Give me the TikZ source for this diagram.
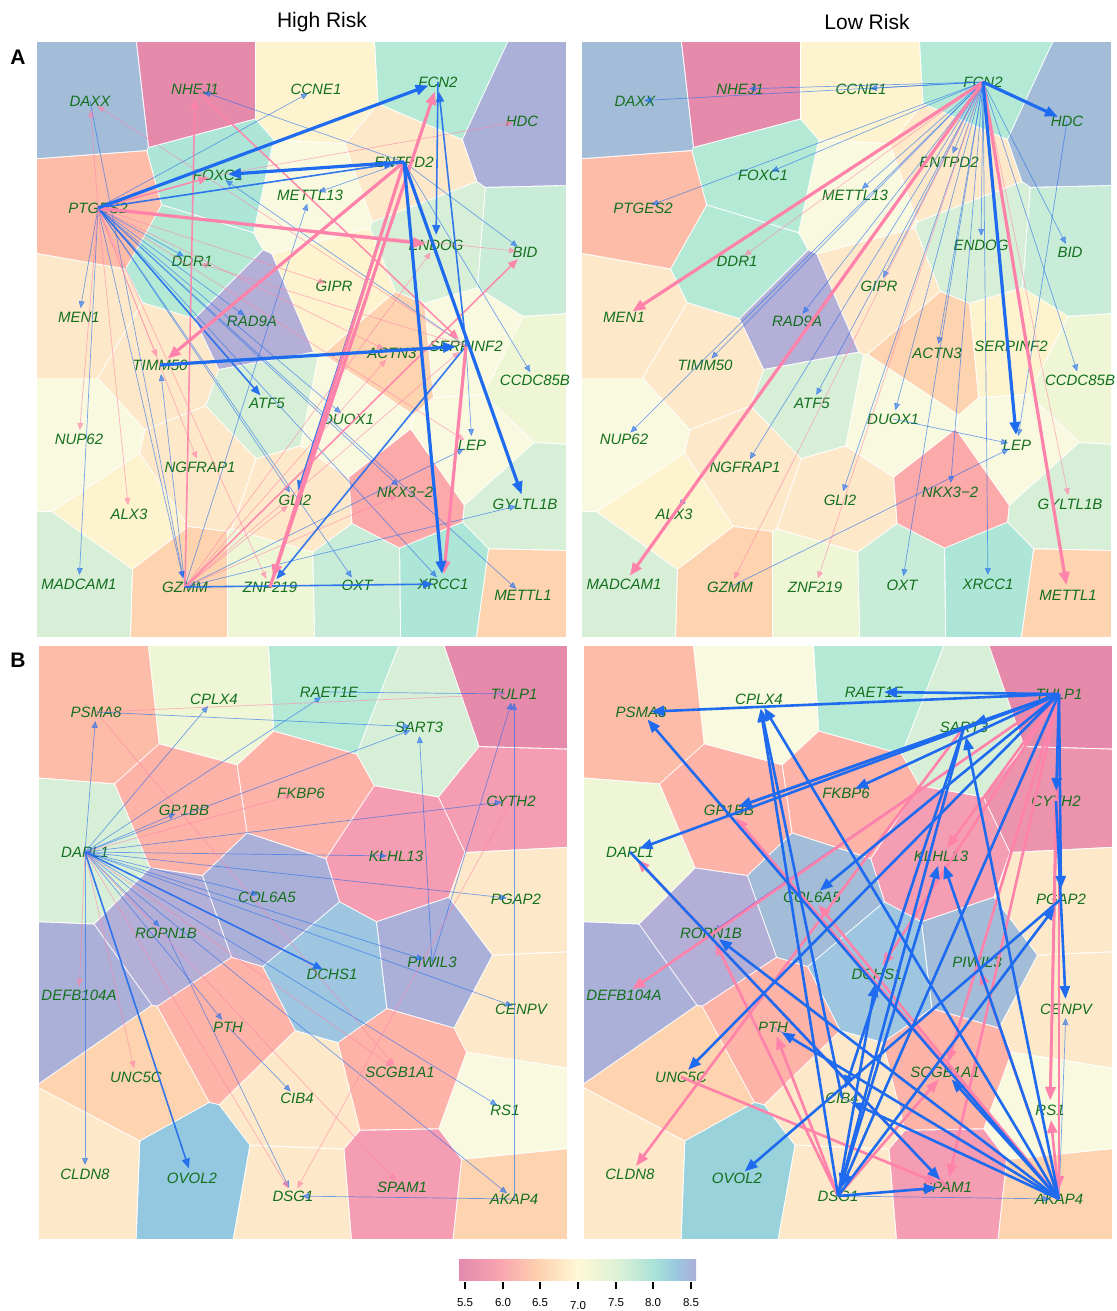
\documentclass[tikz,border=0pt]{standalone}
\usepackage{fontspec}
\setmainfont{Liberation Sans}
\usetikzlibrary{arrows.meta}
\definecolor{vDP}{HTML}{E68AAB}
\definecolor{vDQ}{HTML}{EC93AE}
\definecolor{vPK}{HTML}{F59DB2}
\definecolor{vSA}{HTML}{FDB3A8}
\definecolor{vSB}{HTML}{FCBCA8}
\definecolor{vNK}{HTML}{FBA9A9}
\definecolor{vPE}{HTML}{FDD3B0}
\definecolor{vLP}{HTML}{FDE9C9}
\definecolor{vCR}{HTML}{FEF3CF}
\definecolor{vLY}{HTML}{F9F9DF}
\definecolor{vVG}{HTML}{EEF6D6}
\definecolor{vLG}{HTML}{D8EFD7}
\definecolor{vMG}{HTML}{C9ECD8}
\definecolor{vMI}{HTML}{B4E9D6}
\definecolor{vTE}{HTML}{ADE5D6}
\definecolor{vBL}{HTML}{9EC6E0}
\definecolor{vOV}{HTML}{94C8E0}
\definecolor{vOT}{HTML}{9AD2DC}
\definecolor{vBG}{HTML}{A3BDD9}
\definecolor{vPU}{HTML}{ABB0D8}
\definecolor{vPR}{HTML}{B4AFD6}
\definecolor{ebl}{HTML}{1F6BEF}
\definecolor{epk}{HTML}{FF82AA}
\definecolor{epu}{HTML}{8A55D8}
\definecolor{gtxt}{HTML}{14701E}
\definecolor{lg1}{HTML}{E28AAE}
\definecolor{lg2}{HTML}{F9A3B0}
\definecolor{lg3}{HTML}{FDD0AE}
\definecolor{lg4}{HTML}{FEF8D6}
\definecolor{lg5}{HTML}{DDF1D5}
\definecolor{lg6}{HTML}{A7E0D9}
\definecolor{lg7}{HTML}{9AC8E0}
\definecolor{lg8}{HTML}{ABB0D8}
\pgfdeclarehorizontalshading{legsh}{100bp}{color(0bp)=(lg1); color(25bp)=(lg1); color(33.33bp)=(lg2); color(41.67bp)=(lg3); color(50bp)=(lg4); color(58.33bp)=(lg5); color(66.67bp)=(lg6); color(70.8bp)=(lg7); color(75bp)=(lg8); color(100bp)=(lg8)}

\newcommand\vorcells[2]{%
  \foreach \vxa/\vya/\vca in #1 {%
    \begin{scope}
      \clip #2;
      \foreach \vxb/\vyb/\vcb in #1 {%
        \pgfmathsetmacro\vdx{\vxb-\vxa}%
        \pgfmathsetmacro\vdy{\vyb-\vya}%
        \pgfmathsetmacro\vln{veclen(\vdx,\vdy)}%
        \ifdim\vln pt>1pt
          \pgfmathsetmacro\vnx{\vdx/\vln}%
          \pgfmathsetmacro\vny{\vdy/\vln}%
          \pgfmathsetmacro\vmx{(\vxa+\vxb)/2-0.55*\vnx}%
          \pgfmathsetmacro\vmy{(\vya+\vyb)/2-0.55*\vny}%
          \clip ({\vmx+1500*\vny},{\vmy-1500*\vnx}) -- ({\vmx-1500*\vny},{\vmy+1500*\vnx}) -- ({\vmx-1500*\vny-1500*\vnx},{\vmy+1500*\vnx-1500*\vny}) -- ({\vmx+1500*\vny-1500*\vnx},{\vmy-1500*\vnx-1500*\vny}) -- cycle;
        \fi
      }%
      \fill[\vca] #2;
    \end{scope}
  }%
}

\def\cellsAL{90/101/vBG, 195/89/vDP, 316/89/vCR, 438/82/vMI, 522/121/vPU, 404/162/vLP, 218/175/vTE, 310/195/vLY, 98/208/vSB, 436/245/vLG, 525/252/vMG, 192/261/vMI, 334/286/vCR, 79/317/vLP, 252/321/vPR, 392/353/vPE, 466/346/vLY, 160/365/vLP, 533/380/vVG, 267/403/vLG, 348/419/vLY, 79/439/vLY, 472/445/vLY, 200/467/vLP, 295/500/vLP, 405/492/vNK, 525/504/vLG, 129/514/vCR, 79/584/vLG, 185/587/vPE, 270/587/vVG, 357/585/vMG, 443/584/vTE, 523/595/vPE}
\def\cellsAR{90/101/vBG, 195/89/vDP, 316/89/vCR, 438/82/vMI, 522/121/vBG, 404/162/vLP, 218/175/vMI, 310/195/vLY, 98/208/vSB, 436/245/vLG, 525/252/vMG, 192/261/vMI, 334/286/vLP, 79/317/vLP, 252/321/vPR, 392/353/vPE, 466/346/vCR, 160/365/vLP, 533/380/vVG, 267/403/vLG, 348/419/vLY, 79/439/vLY, 472/445/vLY, 200/467/vLP, 295/500/vLP, 405/492/vNK, 525/504/vLG, 129/514/vCR, 79/584/vLG, 185/587/vPE, 270/587/vVG, 357/585/vMG, 443/584/vTE, 523/595/vPE}
\def\cellsBL{96/712/vSB, 214/699/vVG, 329/692/vMI, 514/694/vDP, 419/727/vLG, 184/810/vSA, 301/793/vSA, 511/801/vPK, 85/852/vLG, 396/856/vPK, 267/897/vPU, 516/899/vLP, 166/933/vPR, 332/974/vBL, 432/962/vPU, 79/995/vPU, 521/1009/vLP, 228/1027/vSA, 136/1077/vPE, 400/1072/vSA, 297/1098/vLP, 505/1110/vLY, 85/1174/vLP, 192/1178/vOV, 293/1196/vLP, 402/1187/vPK, 514/1199/vPE}
\def\cellsBR{96/712/vSB, 214/699/vLY, 329/692/vMI, 514/694/vDP, 419/727/vLG, 184/810/vSA, 301/793/vSA, 511/801/vDQ, 85/852/vVG, 396/856/vPK, 267/897/vBG, 516/899/vLP, 166/933/vPR, 332/974/vBL, 432/962/vBG, 79/995/vPU, 521/1009/vLP, 228/1027/vSA, 136/1077/vPE, 400/1072/vSA, 297/1098/vLP, 505/1110/vLY, 85/1174/vLP, 192/1178/vOT, 293/1196/vLP, 402/1187/vPK, 514/1199/vPE}

\newcommand\Anodes[1]{%
  \node[gl] (#1DAXX) at (90,101) {DAXX};
  \node[gl] (#1NHEJ1) at (195,89) {NHEJ1};
  \node[gl] (#1CCNE1) at (316,89) {CCNE1};
  \node[gl] (#1FCN2) at (438,82) {FCN2};
  \node[gl] (#1HDC) at (522,121) {HDC};
  \node[gl] (#1ENTPD2) at (404,162) {ENTPD2};
  \node[gl] (#1FOXC1) at (218,175) {FOXC1};
  \node[gl] (#1METTL13) at (310,195) {METTL13};
  \node[gl] (#1PTGES2) at (98,208) {PTGES2};
  \node[gl] (#1ENDOG) at (436,245) {ENDOG};
  \node[gl] (#1BID) at (525,252) {BID};
  \node[gl] (#1DDR1) at (192,261) {DDR1};
  \node[gl] (#1GIPR) at (334,286) {GIPR};
  \node[gl] (#1MEN1) at (79,317) {MEN1};
  \node[gl] (#1RAD9A) at (252,321) {RAD9A};
  \node[gl] (#1ACTN3) at (392,353) {ACTN3};
  \node[gl] (#1SERPINF2) at (466,346) {SERPINF2};
  \node[gl] (#1TIMM50) at (160,365) {TIMM50};
  \node[gl] (#1CCDC85B) at (535,380) {CCDC85B};
  \node[gl] (#1ATF5) at (267,403) {ATF5};
  \node[gl] (#1DUOX1) at (348,419) {DUOX1};
  \node[gl] (#1NUP62) at (79,439) {NUP62};
  \node[gl] (#1LEP) at (472,445) {LEP};
  \node[gl] (#1NGFRAP1) at (200,467) {NGFRAP1};
  \node[gl] (#1GLI2) at (295,500) {GLI2};
  \node[gl] (#1NKX) at (405,492) {NKX3−2};
  \node[gl] (#1GYLTL1B) at (525,504) {GYLTL1B};
  \node[gl] (#1ALX3) at (129,514) {ALX3};
  \node[gl] (#1MADCAM1) at (79,584) {MADCAM1};
  \node[gl] (#1GZMM) at (185,587) {GZMM};
  \node[gl] (#1ZNF219) at (270,587) {ZNF219};
  \node[gl] (#1OXT) at (357,585) {OXT};
  \node[gl] (#1XRCC1) at (443,584) {XRCC1};
  \node[gl] (#1METTL1) at (523,595) {METTL1};
}
\newcommand\Bnodes[1]{%
  \node[gl] (#1PSMA8) at (96,712) {PSMA8};
  \node[gl] (#1CPLX4) at (214,699) {CPLX4};
  \node[gl] (#1RAET1E) at (329,692) {RAET1E};
  \node[gl] (#1TULP1) at (514,694) {TULP1};
  \node[gl] (#1SART3) at (419,727) {SART3};
  \node[gl] (#1GP1BB) at (184,810) {GP1BB};
  \node[gl] (#1FKBP6) at (301,793) {FKBP6};
  \node[gl] (#1CYTH2) at (511,801) {CYTH2};
  \node[gl] (#1DAPL1) at (85,852) {DAPL1};
  \node[gl] (#1KLHL13) at (396,856) {KLHL13};
  \node[gl] (#1COL6A5) at (267,897) {COL6A5};
  \node[gl] (#1PGAP2) at (516,899) {PGAP2};
  \node[gl] (#1ROPN1B) at (166,933) {ROPN1B};
  \node[gl] (#1DCHS1) at (332,974) {DCHS1};
  \node[gl] (#1PIWIL3) at (432,962) {PIWIL3};
  \node[gl] (#1DEFB104A) at (79,995) {DEFB104A};
  \node[gl] (#1CENPV) at (521,1009) {CENPV};
  \node[gl] (#1PTH) at (228,1027) {PTH};
  \node[gl] (#1UNC5C) at (136,1077) {UNC5C};
  \node[gl] (#1SCGB1A1) at (400,1072) {SCGB1A1};
  \node[gl] (#1CIB4) at (297,1098) {CIB4};
  \node[gl] (#1RS1) at (505,1110) {RS1};
  \node[gl] (#1CLDN8) at (85,1174) {CLDN8};
  \node[gl] (#1OVOL2) at (192,1178) {OVOL2};
  \node[gl] (#1DSG1) at (293,1196) {DSG1};
  \node[gl] (#1SPAM1) at (402,1187) {SPAM1};
  \node[gl] (#1AKAP4) at (514,1199) {AKAP4};
}

\tikzset{
  gl/.style={font=\fontsize{15}{16}\selectfont\itshape, text=gtxt, inner sep=0pt},
  bT/.style={draw=ebl, line width=0.7pt, opacity=0.6, -{Triangle[length=7pt,width=6pt]}, shorten >=9pt},
  bM/.style={draw=ebl, line width=1.6pt, opacity=0.9, -{Triangle[length=10pt,width=8pt]}, shorten >=10pt},
  bK/.style={draw=ebl, line width=3.2pt, -{Triangle[length=13pt,width=10pt]}, shorten >=10pt},
  pT/.style={draw=epk, line width=0.7pt, opacity=0.6, -{Triangle[length=7pt,width=6pt]}, shorten >=9pt},
  pM/.style={draw=epk, line width=1.6pt, opacity=0.9, -{Triangle[length=10pt,width=8pt]}, shorten >=10pt},
  pK/.style={draw=epk, line width=3.2pt, -{Triangle[length=13pt,width=10pt]}, shorten >=10pt},
  uT/.style={draw=epu, line width=1pt, -{Bar[width=6pt]}, shorten >=9pt},
  ttl/.style={font=\fontsize{21}{24}\selectfont, inner sep=0pt},
  plab/.style={font=\fontsize{21}{24}\selectfont\bfseries, inner sep=0pt},
  leg/.style={font=\fontsize{11.5}{13}\selectfont, inner sep=0pt}
}

\begin{document}
\begin{tikzpicture}[x=1pt,y=-1pt]
\useasboundingbox (0,0) rectangle (1116,1311);
\fill[white] (0,0) rectangle (1116,1311);

% Voronoi cells
\vorcells{\cellsAL}{(37,42) rectangle (566,637)}
\begin{scope}[xshift=545pt]
\vorcells{\cellsAR}{(37,42) rectangle (566,637)}
\end{scope}
\vorcells{\cellsBL}{(39,646) rectangle (567,1239)}
\begin{scope}[xshift=545pt]
\vorcells{\cellsBR}{(39,646) rectangle (567,1239)}
\end{scope}

% titles
\node[ttl] (tHigh) at (322,22) {High Risk};
\node[ttl] (tLow) at (867,22) {Low Risk};
\node[plab] (lA) at (18,57) {A};
\node[plab] (lB) at (18,660) {B};

% labels
\Anodes{a}
\begin{scope}[xshift=545pt]
\Anodes{c}
\end{scope}
\Bnodes{b}
\begin{scope}[xshift=545pt]
\Bnodes{d}
\end{scope}

% ---- A, High Risk
\foreach \s/\t in {PTGES2/CCNE1, ENTPD2/NHEJ1, ENTPD2/METTL13, ENTPD2/BID, ENTPD2/CCDC85B, SERPINF2/FOXC1, DAXX/GZMM, GZMM/TIMM50, GZMM/METTL13, PTGES2/MEN1, PTGES2/DDR1, PTGES2/RAD9A, PTGES2/DUOX1, PTGES2/NKX, PTGES2/OXT, PTGES2/METTL1, PTGES2/MADCAM1, PTGES2/GLI2, GZMM/GYLTL1B, GZMM/LEP, SERPINF2/LEP, PTGES2/XRCC1, PTGES2/GZMM}
  \draw[bT] (a\s.center) -- (a\t.center);
\foreach \s/\t in {PTGES2/DAXX, SERPINF2/DAXX, PTGES2/BID, PTGES2/GIPR, PTGES2/TIMM50, PTGES2/NGFRAP1, PTGES2/ALX3, PTGES2/NUP62, PTGES2/ZNF219, PTGES2/ACTN3, PTGES2/LEP, GZMM/GLI2, GZMM/ENDOG, GZMM/ACTN3, GZMM/SERPINF2, SERPINF2/DDR1, FOXC1/HDC, GZMM/NKX}
  \draw[pT] (a\s.center) -- (a\t.center);
\foreach \s/\t in {GZMM/NHEJ1, NHEJ1/SERPINF2, GZMM/BID, PTGES2/FOXC1}
  \draw[pM] (a\s.center) -- (a\t.center);
\foreach \s/\t in {PTGES2/ENTPD2, FCN2/ENDOG, SERPINF2/FCN2, GZMM/XRCC1, SERPINF2/ZNF219, ENTPD2/GLI2, PTGES2/ATF5}
  \draw[bM] (a\s.center) -- (a\t.center);
\foreach \s/\t in {ZNF219/FCN2, ENTPD2/ZNF219, ENTPD2/TIMM50, PTGES2/ENDOG, SERPINF2/XRCC1}
  \draw[pK] (a\s.center) -- (a\t.center);
\foreach \s/\t in {PTGES2/FCN2, ENTPD2/FOXC1, ENTPD2/XRCC1, ENTPD2/GYLTL1B, TIMM50/SERPINF2}
  \draw[bK] (a\s.center) -- (a\t.center);

% ---- A, Low Risk
\foreach \s/\t in {FCN2/DAXX, FCN2/NHEJ1, FCN2/CCNE1, FCN2/FOXC1, FCN2/PTGES2, FCN2/METTL13, FCN2/ENTPD2, FCN2/GIPR, FCN2/RAD9A, FCN2/ENDOG, FCN2/BID, FCN2/TIMM50, FCN2/NUP62, FCN2/ATF5, FCN2/NGFRAP1, FCN2/ALX3, FCN2/GLI2, FCN2/DUOX1, FCN2/OXT, FCN2/ACTN3, FCN2/NKX, FCN2/XRCC1, FCN2/CCDC85B, HDC/LEP, DUOX1/LEP, GZMM/LEP}
  \draw[bT] (c\s.center) -- (c\t.center);
\foreach \s/\t in {FCN2/DDR1, FCN2/GZMM, FCN2/ZNF219, FCN2/GYLTL1B}
  \draw[pT] (c\s.center) -- (c\t.center);
\foreach \s/\t in {FCN2/MEN1, FCN2/MADCAM1, FCN2/METTL1}
  \draw[pK] (c\s.center) -- (c\t.center);
\foreach \s/\t in {FCN2/HDC, FCN2/LEP}
  \draw[bK] (c\s.center) -- (c\t.center);

% ---- B, High Risk
\foreach \s/\t in {DAPL1/PSMA8, DAPL1/CPLX4, DAPL1/RAET1E, DAPL1/SART3, DAPL1/GP1BB, DAPL1/CYTH2, DAPL1/KLHL13, DAPL1/COL6A5, DAPL1/PGAP2, DAPL1/ROPN1B, DAPL1/PIWIL3, DAPL1/CENPV, DAPL1/RS1, DAPL1/AKAP4, DAPL1/CLDN8, DAPL1/PTH, PTH/CIB4, PSMA8/SART3, RAET1E/TULP1, AKAP4/TULP1, PIWIL3/SART3, PIWIL3/TULP1, AKAP4/DSG1, ROPN1B/DSG1}
  \draw[bT] (b\s.center) -- (b\t.center);
\foreach \s/\t in {DAPL1/DEFB104A, DAPL1/UNC5C, DAPL1/SCGB1A1, PSMA8/SCGB1A1, PSMA8/TULP1, CYTH2/DSG1, DAPL1/FKBP6, DAPL1/SPAM1, DAPL1/DSG1}
  \draw[pT] (b\s.center) -- (b\t.center);
\foreach \s/\t in {DAPL1/DCHS1, DAPL1/OVOL2}
  \draw[bM] (b\s.center) -- (b\t.center);

% ---- B, Low Risk
\foreach \s/\t in {AKAP4/CENPV, PTH/AKAP4, CIB4/AKAP4, DSG1/AKAP4}
  \draw[bT] (d\s.center) -- (d\t.center);
\draw[uT] (dTULP1.center) -- (dROPN1B.center);
\foreach \s/\t in {TULP1/DEFB104A, SART3/CLDN8, TULP1/KLHL13, TULP1/RS1, CYTH2/RS1, TULP1/DCHS1, TULP1/SCGB1A1, TULP1/SPAM1, AKAP4/PIWIL3, TULP1/AKAP4, AKAP4/RS1, AKAP4/GP1BB, AKAP4/COL6A5, SPAM1/DAPL1, DSG1/ROPN1B, DSG1/PTH, DSG1/SCGB1A1, UNC5C/SPAM1}
  \draw[pK, line width=2.6pt] (d\s.center) -- (d\t.center);
\foreach \s/\t in {TULP1/RAET1E, TULP1/PSMA8, TULP1/SART3, TULP1/GP1BB, SART3/GP1BB, TULP1/FKBP6, TULP1/CYTH2, TULP1/PGAP2, CYTH2/CENPV, TULP1/COL6A5, TULP1/UNC5C, PGAP2/OVOL2, TULP1/DSG1, SART3/DSG1, SART3/CIB4, AKAP4/PSMA8, AKAP4/CPLX4, DSG1/CPLX4, CIB4/CPLX4, DAPL1/SPAM1, DSG1/SPAM1, TULP1/DAPL1, DSG1/PGAP2, AKAP4/PTH, AKAP4/CIB4, AKAP4/ROPN1B, AKAP4/KLHL13, AKAP4/SCGB1A1, AKAP4/SART3, DSG1/KLHL13, DSG1/DCHS1}
  \draw[bK, line width=2.6pt] (d\s.center) -- (d\t.center);

% legend
\shade[shading=legsh] (459,1259) rectangle (696,1280);
\foreach \v/\xx/\yy in {5.5/465/1303, 6.0/503/1303, 6.5/540/1303, 7.0/578/1306, 7.5/616/1303, 8.0/653/1303, 8.5/691/1303} {
  \draw[line width=1.2pt] (\xx,1282) -- (\xx,1289);
  \node[leg] (lg\xx) at (\xx,\yy) {\v};
}
\end{tikzpicture}
\end{document}
